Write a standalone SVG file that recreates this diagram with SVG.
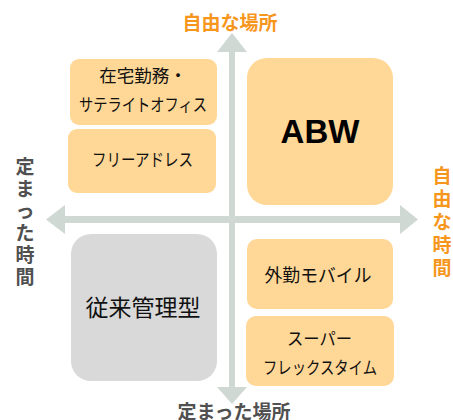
<svg xmlns="http://www.w3.org/2000/svg" width="453" height="420" viewBox="0 0 453 420">
<style>
.box{fill:#ffd796}
.gray{fill:#d9d9d9}
.t{font-family:"Noto Sans CJK JP","Liberation Sans",sans-serif;fill:#111111;text-anchor:middle}
.ax{font-family:"Noto Sans CJK JP","Liberation Sans",sans-serif;font-weight:bold;text-anchor:middle;font-size:19px}
.or{fill:#f7961c}
.dk{fill:#505050}
.arrow{fill:#cfd8d3}
</style>
<rect width="453" height="420" fill="#ffffff"/>
<g id="connectors">
<polygon class="arrow" points="229,387 229,52 217,52 232,33 247,52 235,52 235,387 247,387 232,404 217,387"/>
<polygon class="arrow" points="65,216 400,216 400,205 418,219.5 400,234 400,223 65,223 65,234 46,219.5 65,205"/>
</g>
<g id="node-zaitaku">
<rect class="box" x="70" y="59" width="147" height="66" rx="9"/>
<text class="t" x="143" y="82" font-size="17.5">在宅勤務・</text>
<text class="t" x="143" y="111" font-size="17.5" textLength="128" lengthAdjust="spacingAndGlyphs">サテライトオフィス</text>
</g>
<g id="node-free">
<rect class="box" x="68" y="129" width="148" height="64" rx="9"/>
<text class="t" x="142.5" y="166" font-size="17.5" textLength="101" lengthAdjust="spacingAndGlyphs">フリーアドレス</text>
</g>
<g id="node-abw">
<rect class="box" x="247" y="58" width="146" height="147" rx="20"/>
<text x="320" y="143" font-family="'Liberation Sans',Arial,sans-serif" font-weight="bold" font-size="33" fill="#000" text-anchor="middle">ABW</text>
</g>
<g id="node-traditional">
<rect class="gray" x="71" y="234" width="146" height="147" rx="20"/>
<text class="t" x="143" y="316" font-size="23">従来管理型</text>
</g>
<g id="node-mobile">
<rect class="box" x="247" y="239" width="146" height="70" rx="10"/>
<text class="t" x="318" y="282" font-size="18.5" textLength="107" lengthAdjust="spacingAndGlyphs">外勤モバイル</text>
</g>
<g id="node-flex">
<rect class="box" x="246" y="316" width="148" height="70" rx="10"/>
<text class="t" x="319.5" y="345" font-size="17.5" textLength="65" lengthAdjust="spacingAndGlyphs">スーパー</text>
<text class="t" x="320" y="374" font-size="17.5" textLength="114" lengthAdjust="spacingAndGlyphs">フレックスタイム</text>
</g>
<g id="axis-labels">
<text class="ax or" x="230" y="30" font-size="20">自由な場所</text>
<text class="ax dk" x="234" y="419" font-size="20">定まった場所</text>
<text class="ax dk" x="25" font-size="19"><tspan x="25" y="174">定</tspan><tspan x="25" y="196">ま</tspan><tspan x="25" y="218">っ</tspan><tspan x="25" y="240">た</tspan><tspan x="25" y="262">時</tspan><tspan x="25" y="284">間</tspan></text>
<text class="ax or" x="442" font-size="19"><tspan x="442" y="183">自</tspan><tspan x="442" y="206">由</tspan><tspan x="442" y="229">な</tspan><tspan x="442" y="252">時</tspan><tspan x="442" y="275">間</tspan></text>
</g>
</svg>
